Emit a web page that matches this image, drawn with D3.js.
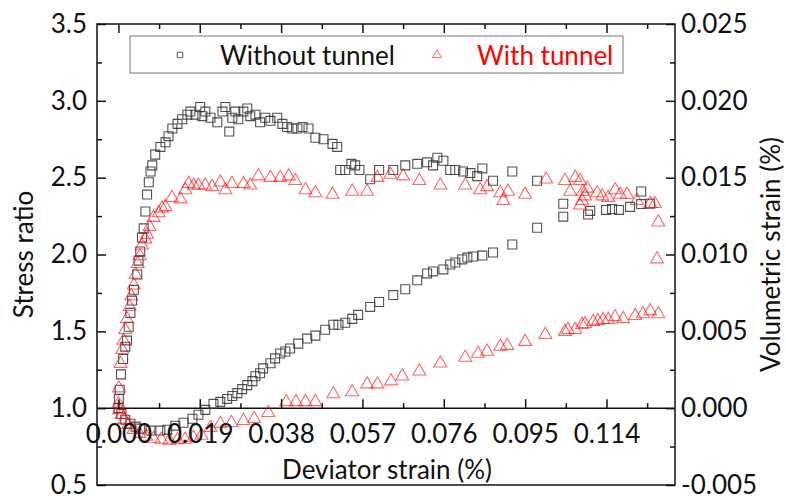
<!DOCTYPE html>
<html>
<head>
<meta charset="utf-8">
<script src="https://cdn.jsdelivr.net/npm/d3@7"></script>
<style>
  body { margin: 0; background: #fff; }
  svg text { font-family: Lato, "Open Sans", sans-serif; fill: #111; }
</style>
</head>
<body>
<svg id="chart" width="786" height="500"></svg>
<script>
// [deviator strain (%), stress ratio] - without tunnel
const noTunnelStress = [
  [0.0001,1.06],[0.0003,1.12],[0.0006,1.22],[0.0011,1.32],[0.0016,1.40],[0.0020,1.44],[0.0024,1.53],
  [0.0028,1.62],[0.0032,1.70],[0.0036,1.77],[0.0044,1.87],[0.0047,1.96],[0.0051,2.02],[0.0055,2.11],
  [0.0059,2.17],[0.0063,2.28],[0.0067,2.39],[0.0071,2.47],[0.0075,2.54],[0.0079,2.58],[0.0086,2.65],
  [0.0098,2.70],[0.0110,2.73],[0.0117,2.77],[0.0126,2.82],[0.0138,2.85],[0.0149,2.88],[0.0161,2.91],
  [0.0168,2.93],[0.0180,2.91],[0.0191,2.96],[0.0196,2.90],[0.0203,2.93],[0.0215,2.89],[0.0231,2.86],
  [0.0243,2.93],[0.0250,2.96],[0.0259,2.80],[0.0266,2.89],[0.0273,2.93],[0.0280,2.88],[0.0292,2.93],
  [0.0301,2.95],[0.0308,2.90],[0.0320,2.91],[0.0331,2.86],[0.0343,2.89],[0.0355,2.87],[0.0371,2.89],
  [0.0383,2.85],[0.0394,2.83],[0.0406,2.82],[0.0418,2.82],[0.0430,2.83],[0.0444,2.82],[0.0460,2.76],
  [0.0479,2.75],[0.0500,2.72],[0.0511,2.70],[0.0518,2.55],[0.0530,2.55],[0.0544,2.59],[0.0553,2.58],
  [0.0563,2.55],[0.0588,2.49],[0.0609,2.55],[0.0642,2.55],[0.0670,2.58],[0.0698,2.59],[0.0721,2.60],
  [0.0735,2.58],[0.0745,2.63],[0.0759,2.61],[0.0775,2.55],[0.0787,2.55],[0.0805,2.54],[0.0822,2.53],
  [0.0838,2.51],[0.0850,2.56],[0.0875,2.48],[0.0920,2.54],[0.0978,2.48],[0.1039,2.33],[0.1097,2.26],
  [0.1139,2.29],[0.1169,2.29],[0.1195,2.31],[0.1221,2.41],[0.1242,2.33]
];

// [deviator strain (%), volumetric strain (%)] - without tunnel
const noTunnelVol = [
  [0.0000,0.00000],[0.0007,-0.00037],[0.0016,-0.00075],[0.0028,-0.00101],[0.0040,-0.00120],
  [0.0051,-0.00133],[0.0075,-0.00146],[0.0098,-0.00146],[0.0114,-0.00140],[0.0133,-0.00114],
  [0.0152,-0.00095],[0.0173,-0.00069],[0.0187,-0.00043],[0.0203,-0.00011],[0.0222,0.00028],
  [0.0238,0.00041],[0.0254,0.00060],[0.0266,0.00079],[0.0278,0.00098],[0.0289,0.00124],
  [0.0301,0.00150],[0.0313,0.00176],[0.0320,0.00208],[0.0331,0.00227],[0.0338,0.00259],
  [0.0355,0.00292],[0.0366,0.00324],[0.0378,0.00356],[0.0390,0.00369],[0.0401,0.00388],
  [0.0420,0.00420],[0.0441,0.00453],[0.0460,0.00472],[0.0483,0.00510],[0.0502,0.00543],
  [0.0514,0.00543],[0.0530,0.00556],[0.0546,0.00581],[0.0560,0.00607],[0.0588,0.00659],
  [0.0609,0.00691],[0.0642,0.00736],[0.0670,0.00774],[0.0698,0.00832],[0.0721,0.00877],
  [0.0735,0.00890],[0.0759,0.00903],[0.0775,0.00935],[0.0787,0.00948],[0.0803,0.00968],
  [0.0815,0.00980],[0.0829,0.00987],[0.0850,0.00993],[0.0875,0.01013],[0.0920,0.01065],
  [0.0978,0.01174],[0.1039,0.01246],[0.1102,0.01284],[0.1153,0.01296],[0.1221,0.01328]
];

// [deviator strain (%), stress ratio] - with tunnel
const tunnelStress = [
  [0.0001,1.13],[0.0005,1.29],[0.0009,1.38],[0.0012,1.44],[0.0016,1.51],[0.0020,1.58],[0.0026,1.66],
  [0.0030,1.73],[0.0036,1.80],[0.0040,1.87],[0.0045,1.94],[0.0050,1.99],[0.0055,2.06],[0.0063,2.10],
  [0.0067,2.13],[0.0073,2.18],[0.0082,2.24],[0.0094,2.27],[0.0102,2.30],[0.0110,2.31],[0.0125,2.37],
  [0.0145,2.36],[0.0156,2.42],[0.0164,2.46],[0.0176,2.45],[0.0187,2.45],[0.0203,2.45],[0.0219,2.44],
  [0.0238,2.47],[0.0250,2.42],[0.0265,2.46],[0.0292,2.46],[0.0308,2.45],[0.0327,2.51],[0.0355,2.50],
  [0.0378,2.50],[0.0398,2.51],[0.0413,2.48],[0.0437,2.42],[0.0460,2.40],[0.0500,2.39],[0.0546,2.41],
  [0.0581,2.41],[0.0605,2.50],[0.0635,2.52],[0.0665,2.51],[0.0703,2.48],[0.0752,2.45],[0.0810,2.45],
  [0.0845,2.42],[0.0861,2.44],[0.0892,2.40],[0.0899,2.35],[0.0910,2.41],[0.0950,2.39],[0.0999,2.49],
  [0.1043,2.48],[0.1055,2.41],[0.1067,2.50],[0.1078,2.48],[0.1085,2.41],[0.1083,2.35],[0.1078,2.32],
  [0.1090,2.38],[0.1095,2.43],[0.1118,2.40],[0.1130,2.38],[0.1144,2.37],[0.1160,2.42],[0.1172,2.39],
  [0.1188,2.39],[0.1211,2.35],[0.1242,2.33],[0.1253,2.33],[0.1261,2.21],[0.1258,1.97]
];

// [deviator strain (%), volumetric strain (%)] - with tunnel
const tunnelVol = [
  [0.0000,0.00028],[0.0002,-0.00011],[0.0007,-0.00043],[0.0014,-0.00075],[0.0023,-0.00108],
  [0.0035,-0.00140],[0.0049,-0.00166],[0.0065,-0.00185],[0.0082,-0.00198],[0.0100,-0.00204],
  [0.0119,-0.00210],[0.0138,-0.00207],[0.0156,-0.00204],[0.0175,-0.00191],[0.0194,-0.00178],
  [0.0215,-0.00127],[0.0238,-0.00101],[0.0264,-0.00095],[0.0292,-0.00082],[0.0317,-0.00069],
  [0.0350,-0.00030],[0.0392,0.00041],[0.0415,0.00041],[0.0437,0.00041],[0.0460,0.00041],
  [0.0502,0.00092],[0.0546,0.00105],[0.0581,0.00156],[0.0605,0.00156],[0.0637,0.00176],
  [0.0663,0.00208],[0.0703,0.00240],[0.0752,0.00292],[0.0810,0.00330],[0.0840,0.00356],
  [0.0861,0.00369],[0.0892,0.00401],[0.0908,0.00407],[0.0950,0.00433],[0.0997,0.00478],
  [0.1043,0.00498],[0.1050,0.00510],[0.1067,0.00510],[0.1083,0.00543],[0.1090,0.00549],
  [0.1109,0.00562],[0.1120,0.00568],[0.1132,0.00575],[0.1144,0.00575],[0.1160,0.00594],
  [0.1179,0.00581],[0.1207,0.00601],[0.1225,0.00613],[0.1242,0.00633],[0.1261,0.00613]
];

const xMajor = [0, 0.019, 0.038, 0.057, 0.076, 0.095, 0.114];
const xMinor = [0.0095, 0.0285, 0.0475, 0.0665, 0.0855, 0.1045, 0.1235];
const yLeftMajor = [0.5, 1.0, 1.5, 2.0, 2.5, 3.0, 3.5];
const yLeftMinor = [0.75, 1.25, 1.75, 2.25, 2.75, 3.25];
const yRightMajor = [-0.005, 0, 0.005, 0.010, 0.015, 0.020, 0.025];
const yRightMinor = [-0.0025, 0.0025, 0.0075, 0.0125, 0.0175, 0.0225];
const legendLabels = ["Without tunnel", "With tunnel"];

const svg = d3.select("#chart");
const box = { left: 97, right: 675, top: 24, bottom: 485 };
const FS = 26;

const x = d3.scaleLinear().domain([-0.005, 0.13]).range([box.left, box.right]);
const yL = d3.scaleLinear().domain([0.5, 3.5]).range([box.bottom, box.top]);
const yR = d3.scaleLinear().domain([-0.005, 0.025]).range([box.bottom, box.top]);

svg.append("rect").attr("width", 786).attr("height", 500).attr("fill", "#fff");

// frame
svg.append("rect")
  .attr("x", box.left).attr("y", box.top)
  .attr("width", box.right - box.left).attr("height", box.bottom - box.top)
  .attr("fill", "none").attr("stroke", "#111").attr("stroke-width", 1.5);

function styleAxis(g) {
  g.select(".domain").remove();
  g.selectAll("line").attr("stroke", "#111").attr("stroke-width", 1.5);
  g.selectAll("text").attr("font-size", FS).attr("font-family", "Lato, sans-serif").attr("fill", "#111");
}

// left axis
svg.append("g").attr("transform", `translate(${box.left},0)`)
  .call(d3.axisLeft(yL).tickValues(yLeftMajor).tickSize(-9).tickPadding(10).tickFormat(d3.format(".1f")))
  .call(styleAxis);
svg.append("g").attr("transform", `translate(${box.left},0)`)
  .call(d3.axisLeft(yL).tickValues(yLeftMinor).tickSize(-5).tickFormat(""))
  .call(styleAxis);

// right axis
svg.append("g").attr("transform", `translate(${box.right},0)`)
  .call(d3.axisRight(yR).tickValues(yRightMajor).tickSize(-9).tickPadding(6).tickFormat(d => d.toFixed(3)))
  .call(styleAxis);
svg.append("g").attr("transform", `translate(${box.right},0)`)
  .call(d3.axisRight(yR).tickValues(yRightMinor).tickSize(-5).tickFormat(""))
  .call(styleAxis);

// top axis
svg.append("g").attr("transform", `translate(0,${box.top})`)
  .call(d3.axisTop(x).tickValues(xMajor).tickSize(-9).tickFormat(""))
  .call(styleAxis);
svg.append("g").attr("transform", `translate(0,${box.top})`)
  .call(d3.axisTop(x).tickValues(xMinor).tickSize(-5).tickFormat(""))
  .call(styleAxis);

// x axis sits on the zero line of volumetric strain
const y0 = yR(0);
svg.append("line")
  .attr("x1", box.left).attr("x2", box.right).attr("y1", y0).attr("y2", y0)
  .attr("stroke", "#111").attr("stroke-width", 1.5);

// data
svg.append("clipPath").attr("id", "plotclip").append("rect")
  .attr("x", box.left).attr("y", box.top)
  .attr("width", box.right - box.left).attr("height", box.bottom - box.top);
const plot = svg.append("g").attr("clip-path", "url(#plotclip)");

const square = d3.symbol().type(d3.symbolSquare).size(80);
const triangle = d3.symbol().type(d3.symbolTriangle).size(72);

function drawSeries(data, yScale, sym, color, opacity) {
  plot.append("g").selectAll("path")
    .data(data)
    .join("path")
    .attr("transform", d => `translate(${x(d[0])},${yScale(d[1])})`)
    .attr("d", sym)
    .attr("fill", "none")
    .attr("stroke", color)
    .attr("stroke-opacity", opacity)
    .attr("stroke-width", 1.1);
}

drawSeries(noTunnelStress, yL, square, "#333", 0.85);
drawSeries(noTunnelVol, yR, square, "#333", 0.85);
drawSeries(tunnelStress, yL, triangle, "#ff0000", 0.6);
drawSeries(tunnelVol, yR, triangle, "#ff0000", 0.6);

// x tick labels drawn below the zero line
svg.append("g").attr("transform", `translate(0,${y0})`)
  .call(d3.axisBottom(x).tickValues(xMajor).tickSize(-9).tickPadding(16).tickFormat(d => d.toFixed(3)))
  .call(styleAxis);
svg.append("g").attr("transform", `translate(0,${y0})`)
  .call(d3.axisBottom(x).tickValues(xMinor).tickSize(-5).tickFormat(""))
  .call(styleAxis);

// axis titles
svg.append("text")
  .attr("x", 387).attr("y", 479)
  .attr("text-anchor", "middle").attr("font-size", FS)
  .text("Deviator strain (%)");
svg.append("text")
  .attr("transform", `translate(33,${(box.top + box.bottom) / 2}) rotate(-90)`)
  .attr("text-anchor", "middle").attr("font-size", FS)
  .text("Stress ratio");
svg.append("text")
  .attr("transform", `translate(780,${(box.top + box.bottom) / 2}) rotate(-90)`)
  .attr("text-anchor", "middle").attr("font-size", FS)
  .text("Volumetric strain (%)");

// legend
const lg = svg.append("g");
lg.append("rect")
  .attr("x", 130).attr("y", 36).attr("width", 493).attr("height", 37)
  .attr("fill", "#fff").attr("stroke", "#777").attr("stroke-width", 1);
lg.append("path")
  .attr("transform", "translate(180,55)")
  .attr("d", d3.symbol().type(d3.symbolSquare).size(30))
  .attr("fill", "none").attr("stroke", "#555").attr("stroke-width", 1);
lg.append("text")
  .attr("x", 220).attr("y", 65).attr("font-size", FS)
  .text(legendLabels[0]);
lg.append("path")
  .attr("transform", "translate(437,55)")
  .attr("d", d3.symbol().type(d3.symbolTriangle).size(34))
  .attr("fill", "none").attr("stroke", "#ff0000").attr("stroke-opacity", 0.6).attr("stroke-width", 1);
lg.append("text")
  .attr("x", 477).attr("y", 65).attr("font-size", FS)
  .style("fill", "#ff0000")
  .text(legendLabels[1]);
</script>
</body>
</html>
